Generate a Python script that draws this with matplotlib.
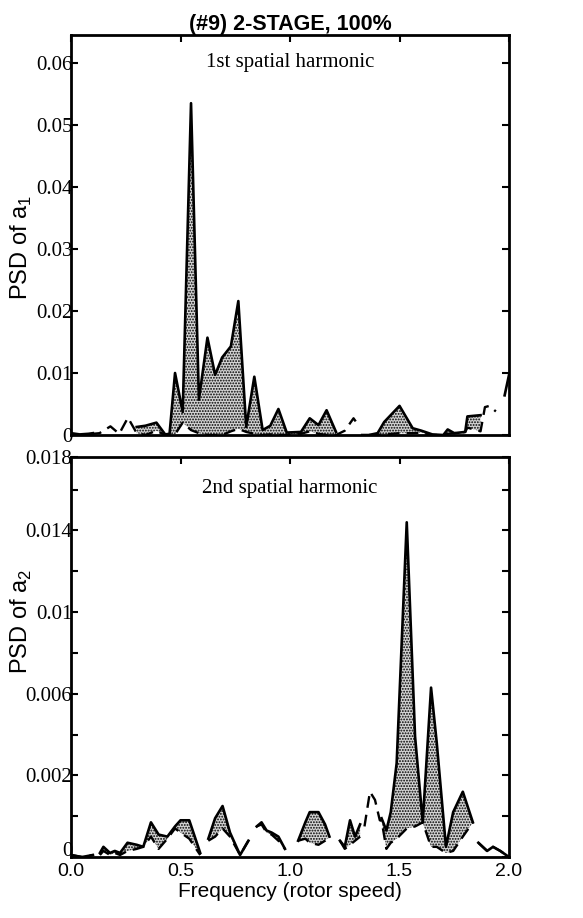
"""
PSD of the first two spatial harmonics, (#9) 2-stage compressor at 100% speed.
Upper solid curve and lower dashed curve, with the band between them stippled.
"""
import numpy as np
import matplotlib
matplotlib.use("Agg")
import matplotlib.pyplot as plt
import matplotlib.transforms as mtrans

nan = np.nan

# ---------------------------------------------------------------- dati
# 1st spatial harmonic (PSD of a1)
FREQ_1 = [0.00, 0.04, 0.08, 0.10, 0.13, 0.18, 0.22, 0.26, 0.30, 0.34,
          0.39, 0.43, 0.45, 0.475, 0.51, 0.548, 0.584, 0.623, 0.658, 0.69,
          0.73, 0.764, 0.80, 0.837, 0.875, 0.91, 0.947, 0.985, 1.05, 1.09,
          1.13, 1.167, 1.21, 1.25, 1.29, 1.30, 1.33, 1.36, 1.40, 1.43,
          1.50, 1.56, 1.60, 1.65, 1.70, 1.72, 1.75, 1.80, 1.81, 1.87,
          1.89, 1.91, 1.94, 1.98, 2.00]
ALTO_1 = [0.0003, 0.0001, 0.0002, 0.0003, nan, nan, nan, nan, 0.0013, 0.0015,
          0.0020, 0.0001, 0.0002, 0.0100, 0.0037, 0.0535, 0.0057, 0.0157, 0.0097, 0.0125,
          0.0143, 0.0216, 0.0013, 0.0094, 0.0008, 0.0015, 0.0042, 0.0004, 0.0005, 0.0027,
          0.0016, 0.0040, 0.0005, nan, nan, nan, 0.0000, 0.0000, 0.0003, 0.0021,
          0.0047, 0.0011, 0.0007, 0.0001, 0.0000, 0.0009, 0.0003, 0.0005, 0.0030, 0.0032,
          nan, nan, nan, 0.0064, 0.0097]
BASSO_1 = [0.0000, 0.0000, 0.0000, 0.0002, 0.0003, 0.0014, 0.0002, 0.0028, 0.0003, 0.0000,
           0.0007, 0.0000, 0.0000, 0.0001, 0.0020, 0.0008, 0.0003, 0.0000, 0.0000, 0.0000,
           0.0006, 0.0010, 0.0005, 0.0002, 0.0000, 0.0001, 0.0000, 0.0000, 0.0002, 0.0006,
           0.0002, 0.0000, 0.0000, 0.0007, 0.0027, 0.0022, nan, 0.0000, 0.0000, 0.0001,
           0.0003, 0.0003, 0.0004, 0.0000, 0.0000, 0.0002, 0.0003, 0.0005, 0.0012, 0.0006,
           0.0045, 0.0047, 0.0038, nan, nan]

# 2nd spatial harmonic (PSD of a2), read on the printed tick labels
FREQ_2 = [0.00, 0.05, 0.10, 0.115, 0.132, 0.148, 0.178, 0.20, 0.224, 0.258,
          0.30, 0.33, 0.365, 0.40, 0.44, 0.475, 0.50, 0.54, 0.59, 0.61,
          0.627, 0.658, 0.692, 0.726, 0.772, 0.81, 0.83, 0.848, 0.87, 0.893,
          0.916, 0.947, 0.977, 1.00, 1.037, 1.07, 1.09, 1.13, 1.16, 1.18,
          1.20, 1.228, 1.25, 1.274, 1.297, 1.32, 1.33, 1.34, 1.365, 1.388,
          1.41, 1.418, 1.44, 1.46, 1.487, 1.533, 1.571, 1.606, 1.644, 1.67,
          1.712, 1.745, 1.789, 1.835, 1.85, 1.86, 1.90, 1.927, 1.96, 2.00]
ALTO_2 = [-0.0019, -0.0020, -0.0019, nan, -0.0018, -0.0015, -0.0018, -0.0017, -0.0018, -0.0013,
          -0.0014, -0.0015, -0.0003, -0.0009, -0.0010, -0.0005, -0.0002, -0.0002, -0.0018, nan,
          -0.0011, -0.0001, 0.0005, -0.0008, -0.0019, -0.0012, nan, -0.0005, -0.0003, -0.0007,
          -0.0008, -0.0010, -0.0016, nan, -0.0012, -0.0003, 0.0002, 0.0002, -0.0004, -0.0010,
          nan, -0.0012, -0.0015, -0.0002, -0.0010, -0.0004, nan, nan, nan, nan,
          nan, -0.0001, -0.0007, 0.0002, 0.0026, 0.0144, 0.0039, -0.0003, 0.0063, 0.0036,
          -0.0015, 0.0002, 0.0012, -0.0003, nan, -0.0013, -0.0017, -0.0015, -0.0017, -0.0020]
BASSO_2 = [-0.0019, -0.0020, -0.0019, nan, -0.0019, -0.0017, -0.0019, -0.0018, -0.0019, -0.0017,
           -0.0016, -0.0015, -0.0010, -0.0016, -0.0011, -0.0006, -0.0008, -0.0011, -0.0019, nan,
           -0.0012, -0.0010, -0.0006, -0.0010, -0.0019, -0.0012, nan, -0.0005, -0.0004, -0.0008,
           -0.0009, -0.0012, -0.0016, nan, -0.0012, -0.0011, -0.0013, -0.0014, -0.0012, -0.0010,
           nan, -0.0012, -0.0016, -0.0014, -0.0012, -0.0010, nan, -0.0005, 0.0012, 0.0008,
           -0.0002, -0.0002, -0.0016, -0.0013, -0.0011, -0.0006, -0.0005, -0.0003, -0.0015, -0.0015,
           -0.0018, -0.0017, -0.0010, -0.0003, nan, -0.0013, -0.0017, -0.0015, -0.0017, -0.0020]

YTICKS_1 = [0, 0.01, 0.02, 0.03, 0.04, 0.05, 0.06]
YLABELS_1 = ["0", "0.01", "0.02", "0.03", "0.04", "0.05", "0.06"]
YTICKS_2 = [-0.002, 0.0, 0.002, 0.004, 0.006, 0.008, 0.010, 0.012, 0.014, 0.016, 0.0176]
YLABELS_2 = ["0", "", "0.002", "", "0.006", "", "0.01", "", "0.014", "", "0.018"]
XTICKS = [0.0, 0.5, 1.0, 1.5, 2.0]
XLABELS = ["0.0", "0.5", "1.0", "1.5", "2.0"]

SANS = "Liberation Sans"
SERIF = "Liberation Serif"

plt.rcParams["hatch.linewidth"] = 0.9
plt.rcParams["font.family"] = SANS


def pannello(ax, x, alto, basso, ylim, yticks, ylabels, testo, ytesto):
    x = np.array(x)
    alto = np.array(alto, dtype=float)
    basso = np.array(basso, dtype=float)
    ok = np.isfinite(alto) & np.isfinite(basso)
    ax.fill_between(x, basso, alto, where=ok, facecolor="#d4d4d4", edgecolor="black",
                    hatch="......", linewidth=0, interpolate=False)
    ax.plot(x, basso, color="black", linewidth=1.7, linestyle=(0, (5, 3)))
    ax.plot(x, alto, color="black", linewidth=1.9)
    ax.set_xlim(0, 2.0)
    ax.set_ylim(*ylim)
    ax.set_yticks(yticks)
    ax.set_yticklabels(ylabels, fontfamily=SERIF, fontsize=15)
    ax.set_xticks(XTICKS)
    ax.tick_params(axis="y", which="both", direction="in", length=5, width=1.5,
                   left=True, right=True, pad=-1)
    ax.tick_params(axis="x", which="both", direction="in", length=5, width=1.5,
                   top=True, bottom=False)
    for sp in ax.spines.values():
        sp.set_linewidth(2)
    ax.text(0.5, ytesto, testo, transform=ax.transAxes, ha="center", va="center",
            fontfamily=SERIF, fontsize=15)


fig = plt.figure(figsize=(5.83, 9.18), dpi=100)
ax1 = fig.add_axes([0.1218, 0.5261, 0.7513, 0.4358])
ax2 = fig.add_axes([0.1218, 0.0664, 0.7513, 0.4358])

pannello(ax1, FREQ_1, ALTO_1, BASSO_1, (0, 0.0645), YTICKS_1, YLABELS_1,
         "1st spatial harmonic", 0.93)
ax1.set_xticklabels([])
ax1.set_ylabel(r"PSD of a$_\mathregular{1}$", fontsize=17)
ax1.yaxis.set_label_coords(-0.085, 0.47)
ax1.set_title("(#9) 2-STAGE, 100%", fontweight="bold", fontsize=15.5, pad=3)

pannello(ax2, FREQ_2, ALTO_2, BASSO_2, (-0.002, 0.0176), YTICKS_2, YLABELS_2,
         "2nd spatial harmonic", 0.92)
ax2.set_xticklabels(XLABELS, fontsize=14)
ax2.tick_params(axis="x", pad=4)
ax2.set_ylabel(r"PSD of a$_\mathregular{2}$", fontsize=17)
ax2.yaxis.set_label_coords(-0.085, 0.59)
ax2.set_xlabel("Frequency (rotor speed)", fontsize=15, labelpad=2)

# the "0" of the lower panel sits a little above the axis line, as printed
su = mtrans.ScaledTranslation(0, 0.08, fig.dpi_scale_trans)
etichetta_zero = ax2.get_yticklabels()[0]
etichetta_zero.set_transform(etichetta_zero.get_transform() + su)

fig.savefig("out.png", dpi=100)
